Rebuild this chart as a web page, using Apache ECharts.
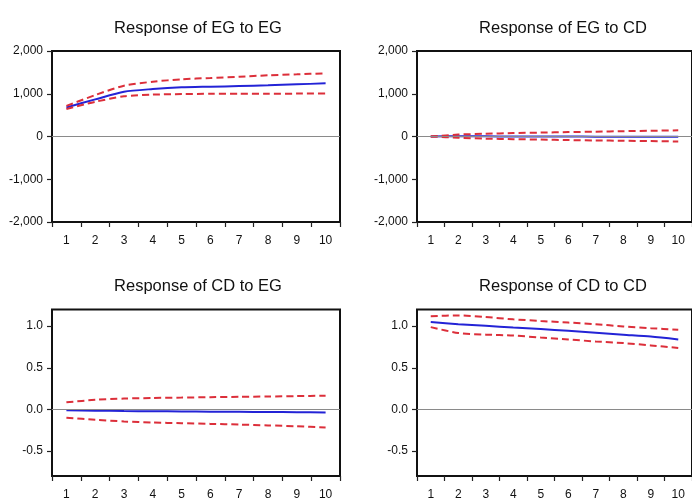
<!DOCTYPE html>
<html>
<head>
<meta charset="utf-8">
<script src="https://cdn.jsdelivr.net/npm/echarts@6/dist/echarts.min.js"></script>
<style>
  html, body { margin: 0; padding: 0; background: #fff; }
  #chart { width: 692px; height: 501px; }
</style>
</head>
<body>
<div id="chart"></div>
<script>
// Impulse-response periods
const periods = ['1', '2', '3', '4', '5', '6', '7', '8', '9', '10'];

// Response of EG to EG (point estimate and +/- 2 S.E. bands)
const egToEG      = [680, 868, 1047, 1110, 1150, 1165, 1180, 1197, 1220, 1244];
const egToEGUpper = [715, 969, 1188, 1282, 1338, 1369, 1399, 1432, 1455, 1479];
const egToEGLower = [645, 812, 940, 980, 993, 998, 1000, 1002, 1003, 1005];

// Response of EG to CD
const egToCD      = [0, 5, 3, 1, -1, -2, -3, -4, -5, -6];
const egToCDUpper = [0, 45, 65, 80, 92, 103, 114, 124, 134, 145];
const egToCDLower = [0, -30, -50, -62, -73, -83, -92, -100, -108, -117];

// Response of CD to EG
const cdToEG      = [-0.01, -0.015, -0.02, -0.022, -0.025, -0.027, -0.029, -0.031, -0.034, -0.037];
const cdToEGUpper = [0.085, 0.115, 0.13, 0.137, 0.142, 0.147, 0.151, 0.155, 0.16, 0.165];
const cdToEGLower = [-0.1, -0.125, -0.145, -0.158, -0.166, -0.174, -0.182, -0.192, -0.203, -0.218];

// Response of CD to CD
const cdToCD      = [1.05, 1.023, 1.004, 0.984, 0.965, 0.945, 0.922, 0.898, 0.875, 0.84];
const cdToCDUpper = [1.12, 1.129, 1.109, 1.082, 1.062, 1.043, 1.023, 0.996, 0.976, 0.957];
const cdToCDLower = [0.988, 0.918, 0.898, 0.887, 0.863, 0.84, 0.816, 0.797, 0.769, 0.738];

// Axis tick labels
const egTicks = [-2000, -1000, 0, 1000, 2000];
const cdTicks = [-0.5, 0, 0.5, 1.0];

const panelTitles = ['Response of EG to EG', 'Response of EG to CD', 'Response of CD to EG', 'Response of CD to CD'];
const panels = [
  [egToEG, egToEGUpper, egToEGLower],
  [egToCD, egToCDUpper, egToCDLower],
  [cdToEG, cdToEGUpper, cdToEGLower],
  [cdToCD, cdToCDUpper, cdToCDLower]
];

const FONT = 'Liberation Sans, Arial, sans-serif';
const gridBoxes = [
  { left: 52, top: 51, width: 288, height: 171 },
  { left: 417, top: 51, width: 288, height: 171 },
  { left: 52, top: 309.5, width: 288, height: 171 },
  { left: 417, top: 309.5, width: 288, height: 171 }
];
const titlePos = [
  { x: 198, y: 19.5 }, { x: 563, y: 19.5 },
  { x: 198, y: 277.5 }, { x: 563, y: 277.5 }
];

const fmtThousands = v => {
  const s = Math.abs(v).toString().replace(/\B(?=(\d{3})+(?!\d))/g, ',');
  return (v < 0 ? '-' : '') + s;
};

const grids = gridBoxes.map(g => Object.assign({
  show: true, borderColor: '#111', borderWidth: 2, backgroundColor: '#fff'
}, g));

const xAxes = gridBoxes.map((g, i) => ({
  type: 'category', gridIndex: i, data: periods, boundaryGap: true,
  axisLine: { show: false, onZero: false },
  axisTick: { show: true, length: 5, inside: false, lineStyle: { color: '#222', width: 1.2 } },
  axisLabel: { margin: 13, fontSize: 12, color: '#111', fontFamily: FONT, interval: 0 },
  splitLine: { show: false }
}));

const yAxes = gridBoxes.map((g, i) => {
  const base = {
    type: 'value', gridIndex: i,
    axisLine: { show: false },
    splitLine: { show: false },
    axisTick: { show: true, length: 5, lineStyle: { color: '#222', width: 1.2 } },
    axisLabel: { margin: 9, fontSize: 12, color: '#111', fontFamily: FONT }
  };
  if (i < 2) {
    base.min = -2000; base.max = 2000; base.interval = 1000;
    base.axisLabel.formatter = v => fmtThousands(v);
  } else {
    base.min = -0.8; base.max = 1.2;
    base.axisTick.customValues = cdTicks;
    base.axisLabel.customValues = cdTicks;
    base.axisLabel.formatter = v => v.toFixed(1);
  }
  return base;
});

const series = [];
panels.forEach((p, i) => {
  series.push({
    type: 'line', xAxisIndex: i, yAxisIndex: i, data: p[0],
    symbol: 'none', z: 3, smooth: 0.25,
    lineStyle: { color: '#2323d6', width: 2 },
    markLine: {
      silent: true, symbol: 'none', label: { show: false },
      lineStyle: { color: '#8a8a8a', width: 1, type: 'solid' },
      data: [{ yAxis: 0 }]
    }
  });
  [p[1], p[2]].forEach(band => series.push({
    type: 'line', xAxisIndex: i, yAxisIndex: i, data: band,
    symbol: 'none', z: 4, smooth: 0.25,
    lineStyle: { color: '#dc2f3a', width: 2, type: [7, 4] }
  }));
});

const chart = echarts.init(document.getElementById('chart'), null, { renderer: 'canvas' });
chart.setOption({
  backgroundColor: '#fff',
  animation: false,
  title: panelTitles.map((t, i) => ({
    text: t, left: titlePos[i].x, top: titlePos[i].y, textAlign: 'center', padding: 0,
    textStyle: { fontSize: 16.5, fontWeight: 'normal', color: '#111', fontFamily: FONT }
  })),
  grid: grids,
  xAxis: xAxes,
  yAxis: yAxes,
  series: series
});
</script>
</body>
</html>
